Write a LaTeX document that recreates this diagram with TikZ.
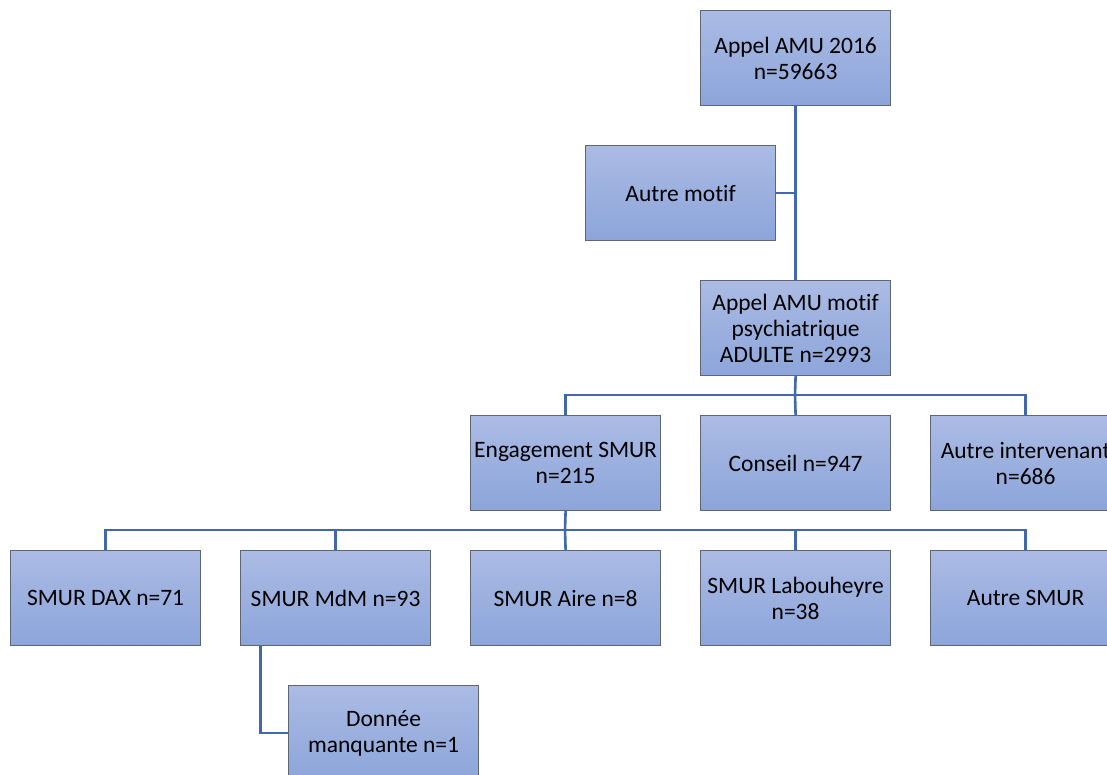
\documentclass[tikz,border=0pt]{standalone}
\usepackage{fontspec}
\setmainfont{Carlito}[Ligatures=NoCommon]
\definecolor{boxtop}{RGB}{171,187,228}
\definecolor{boxbot}{RGB}{140,165,218}
\definecolor{boxline}{RGB}{95,102,115}
\definecolor{conn}{RGB}{66,103,172}
\tikzset{
  orgbox/.style={rectangle, draw=boxline, line width=1.2pt, top color=boxtop, bottom color=boxbot,
    minimum width=190pt, minimum height=95pt, inner sep=0pt, align=center, anchor=north west,
    font=\fontsize{23.5pt}{26pt}\selectfont, text=black},
  link/.style={draw=conn, line width=2.6pt}
}
\begin{document}
\begin{tikzpicture}[x=1pt,y=-1pt]
\useasboundingbox (0,0) rectangle (1107,774);
\clip (0,0) rectangle (1107,774);
\fill[white] (0,0) rectangle (1107,774);
\coordinate (h1) at (795,395);
\coordinate (h2) at (565,530);
\node[orgbox] (top) at (700,10) {Appel AMU 2016\\n=59663};
\node[orgbox] (autre) at (585,145) {Autre motif};
\node[orgbox] (psy) at (700,280) {Appel AMU motif\\psychiatrique\\ADULTE n=2993};
\node[orgbox] (eng) at (470,415) {Engagement SMUR\\n=215};
\node[orgbox] (cons) at (700,415) {Conseil n=947};
\node[orgbox] (ainter) at (930,415) {Autre intervenant\\n=686};
\node[orgbox] (dax) at (10,550) {SMUR DAX n=71};
\node[orgbox] (mdm) at (240,550) {SMUR MdM n=93};
\node[orgbox] (aire) at (470,550) {SMUR Aire n=8};
\node[orgbox] (lab) at (700,550) {SMUR Labouheyre\\n=38};
\node[orgbox] (asmur) at (930,550) {Autre SMUR};
\node[orgbox] (don) at (288,685) {Donnée\\manquante n=1};
\path[link] (top.south) -- (psy.north);
\path[link] (autre.east) -- (autre.east -| top.south);
\path[link] (psy.south) -- (h1);
\path[link] (eng.north) |- (h1) -| (ainter.north);
\path[link] (cons.north) -- (h1);
\path[link] (eng.south) -- (h2);
\path[link] (dax.north) |- (h2) -| (asmur.north);
\path[link] (mdm.north) -- (mdm.north |- h2);
\path[link] (aire.north) -- (h2);
\path[link] (lab.north) -- (lab.north |- h2);
\path[link] ([xshift=-75pt]mdm.south) |- (don.west);
\end{tikzpicture}
\end{document}
